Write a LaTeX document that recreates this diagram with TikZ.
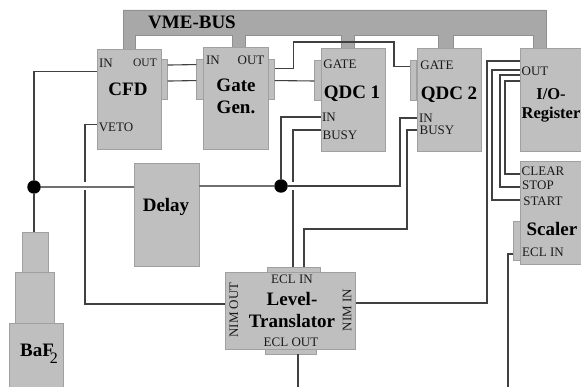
\documentclass[tikz,border=0pt]{standalone}
\usepackage{fontspec}
\setmainfont{Liberation Serif}
\usepackage{tikz}
\usetikzlibrary{arrows.meta,positioning,calc}
\definecolor{daqFill}{HTML}{BFBFBF}
\definecolor{daqEdge}{HTML}{A0A0A0}
\definecolor{daqBus}{HTML}{A8A8A8}
\definecolor{daqWire}{HTML}{404040}
\definecolor{daqText}{HTML}{1A1A1A}

\begin{document}
\begin{tikzpicture}[
  x=1pt, y=-1pt,
  base/.style  = {rectangle, inner sep=0pt, line width=0.90pt,
                  fill=daqFill, draw=daqEdge},
  mod/.style   = {base, minimum width=64pt, minimum height=102pt},
  tabv/.style  = {base, minimum width=6.5pt, minimum height=40pt},
  tabh/.style  = {base, minimum height=5pt},
  port/.style  = {font=\fontsize{13}{13}\selectfont, inner sep=0pt, text=daqText},
  portS/.style = {font=\fontsize{11.5}{11.5}\selectfont, inner sep=0pt, text=daqText},
  mname/.style = {font=\fontsize{19}{21.5}\selectfont\bfseries, align=center,
                  inner sep=0pt, text=black},
  wire/.style  = {line width=1.10pt, draw=daqWire},
  wireL/.style = {line width=1.50pt, draw=daqWire!75},
  junc/.style  = {circle, fill=black, inner sep=0pt, minimum size=13.5pt},
]
\useasboundingbox (0,0) rectangle (581,387);

%── VME bus ──────────────────────────────────────────────────────────────────
\draw[line width=0.80pt, draw=daqEdge!90!black, fill=daqBus]
    (123,49) -- (123,10) -- (546,10) -- (546,48) -- (533,48) -- (533,35)
    -- (453,35) -- (453,48) -- (438,48) -- (438,35) -- (354,35) -- (354,48)
    -- (341,48) -- (341,35) -- (245,35) -- (245,47) -- (232,47) -- (232,35)
    -- (135,35) -- (135,49) -- cycle;
\node[mname] (vme) at (192,22) {VME-BUS};

%── Connector tabs ───────────────────────────────────────────────────────────
\node[tabv] (cfdT)  at (164,79.5) {};
\node[tabv] (genTl) at (200,79)   {};
\node[tabv] (genTr) at (271,79)   {};
\node[tabv] (qaT)   at (318,80.5) {};
\node[tabv] (qbT)   at (413.5,80.5) {};
\node[tabv, minimum height=39pt] (scaT) at (517,241) {};
\node[tabh, minimum width=53pt] (ltrTt) at (293.5,270) {};
\node[tabh, minimum width=51pt] (ltrTb) at (290.5,351.5) {};

%── Modules ──────────────────────────────────────────────────────────────────
\node[mod, minimum height=100pt] (cfd) at (129,99)  {};
\node[mod, minimum height=102pt, minimum width=65pt] (gen) at (235.5,98) {};
\node[mod, minimum height=103pt] (qa)  at (353,99.5)  {};
\node[mod, minimum height=103pt] (qb)  at (449,99.5)  {};
\node[mod, minimum height=103pt, minimum width=66pt] (ior) at (553,99.5) {};
\node[mod, minimum height=103pt, minimum width=66pt] (sca) at (553,213)  {};
\node[mod, minimum height=103pt, minimum width=65pt] (dly) at (166.5,214.5) {};
\node[mod, minimum height=77pt,  minimum width=130.5pt] (ltr) at (290.5,310.5) {};

%── BaF2 detector ────────────────────────────────────────────────────────────
\node[base, minimum width=26pt, minimum height=40pt] (pmA) at (35,252)    {};
\node[base, minimum width=39pt, minimum height=51pt] (pmB) at (34.5,297.5) {};
\node[base, minimum width=54pt, minimum height=64pt] (pmC) at (36,355)    {};
\node[mname] (baf) at (39,354) {BaF\hspace{-4pt}\raisebox{-7pt}{\fontsize{16}{16}\selectfont\mdseries 2}};

%── Module names ─────────────────────────────────────────────────────────────
\node[mname] (cfdN) at (128,89)  {CFD};
\node[mname] (genN) at (236,96.5) {Gate\\Gen.};
\node[mname] (qaN)  at (352,94)  {QDC 1};
\node[mname] (qbN)  at (449,95)  {QDC 2};
\node[mname, font=\fontsize{16.5}{19}\selectfont\bfseries] (iorN) at (551,105.5) {I/O-\\Register};
\node[mname] (scaN) at (552,229) {Scaler};
\node[mname] (dlyN) at (166,207) {Delay};
\node[mname] (ltrN) at (292,310) {Level-\\Translator};

%── Port labels ──────────────────────────────────────────────────────────────
\node[port]  (l1)  at (106,63)  {IN};
\node[portS] (l2)  at (145,63)  {OUT};
\node[port]  (l3)  at (116,127) {VETO};
\node[port]  (l4)  at (213,60)  {IN};
\node[port]  (l5)  at (251,60)  {OUT};
\node[port]  (l6)  at (340,64)  {GATE};
\node[port]  (l7)  at (329,117) {IN};
\node[port]  (l8)  at (340,135) {BUSY};
\node[port]  (l9)  at (437,65)  {GATE};
\node[port]  (l10) at (426,118) {IN};
\node[port]  (l11) at (437,130) {BUSY};
\node[port]  (l12) at (535,71)  {OUT};
\node[port]  (l13) at (543,171) {CLEAR};
\node[port]  (l14) at (538,185) {STOP};
\node[port]  (l15) at (543,201) {START};
\node[port]  (l16) at (543,252) {ECL IN};
\node[port]  (l17) at (292,279.5) {ECL IN};
\node[port]  (l18) at (291,342) {ECL OUT};
\node[port, rotate=90] (l19) at (234,310) {NIM OUT};
\node[port, rotate=90] (l20) at (347,310) {NIM IN};

%── Junctions ────────────────────────────────────────────────────────────────
\node[junc] (jA) at (34,187)  {};
\node[junc] (jB) at (281,186) {};

%── Free wire ends ───────────────────────────────────────────────────────────
\coordinate (vetoA) at (85,182);
\coordinate (vetoB) at (85,190);
\coordinate (busyA) at (293,182);
\coordinate (busyB) at (293,190);
\coordinate (ltrIn) at (293,267);
\coordinate (ltrB)  at (304,267);
\coordinate (ltrOut) at (298,387);
\coordinate (scaOut) at (508,387);

%── Wires ────────────────────────────────────────────────────────────────────
\draw[wire]  (pmA.north -| jA) -- (jA) |- ($(cfd.north west)+(0,23)$);
\draw[wireL] (jA) -- (dly.west |- jA);
\draw[wireL] (dly.east |- jB) -- (jB);
\draw[wire]  ($(cfd.north west)+(0,76)$) -| (vetoA);
\draw[wire]  (vetoB) |- (ltr.west |- 0,304);
\draw[wire]  ($(cfdT.north east)+(0,6)$) -- ($(genTl.north west)+(0,6)$);
\draw[wire]  ($(cfdT.north east)+(0,22)$) -- ($(genTl.north west)+(0,22)$);
\draw[wire]  ($(genTr.north east)+(0,10)$) -- ++(19,0) |- (394,42)
             |- ($(qbT.north west)+(0,6.5)$);
\draw[wire]  ($(genTr.north east)+(0,22)$) -- (qaT.west |- 0,81);
\draw[wire]  (jB) |- (qa.west |- 0,117);
\draw[wire]  (jB) -- (400,186) |- (qb.west |- 0,118);
\draw[wire]  (qa.west |- 0,130) -| (busyA);
\draw[wire]  (busyB) -- (ltrIn);
\draw[wire]  (qb.west |- 0,130) -- (407,130) |- (304,229) -- (ltrB);
\draw[wire]  (ior.west |- 0,61) -- (487,61) |- (ltr.east |- 0,303);
\draw[wire]  (ior.west |- 0,70) -- (492,70) |- (sca.west |- 0,200);
\draw[wire]  (ior.west |- 0,75) -- (500,75) |- (sca.west |- 0,187);
\draw[wire]  (ior.west |- 0,81) -- (505,81) |- (sca.west |- 0,174);
\draw[wire]  (scaT.west |- 0,254) -- (508,254) -- (scaOut);
\draw[wire]  (ltrTb.south -| ltrOut) -- (ltrOut);
\end{tikzpicture}
\end{document}
